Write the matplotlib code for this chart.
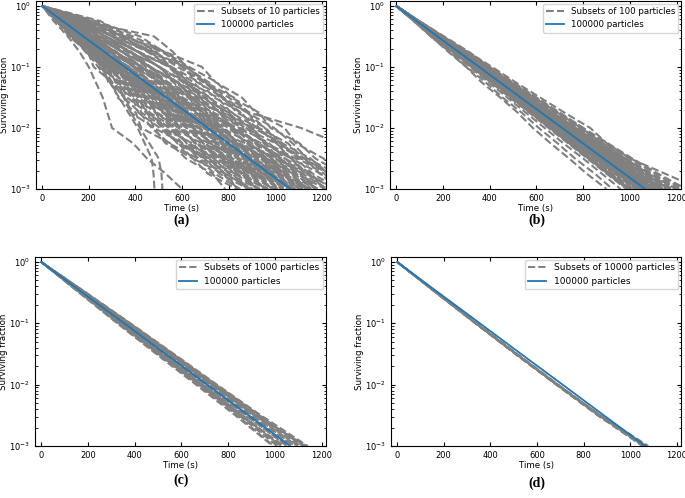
import matplotlib.pyplot as plt

# ---------------------------------------------- Data ----------------------------------------------
# Niveles de fraccion superviviente; cada curva se da por los tiempos (s) en que los cruza
levels = [1.0, 0.316, 0.1, 0.0316, 0.01, 0.00316, 0.001]
levels_fine = [1.0, 0.562, 0.316, 0.178, 0.1, 0.0562, 0.0316, 0.0178, 0.01,
               0.00562, 0.00316, 0.00178, 0.001]

# 100000 particles (linea azul)
ref_times = [0, 177, 355, 532, 710, 887, 1065]

# Subsets of 10 particles (niveles finos)
times_10 = [
    [67, 115, 196, 221, 300, 323, 402, 425, 549, 617, 731, 785],
    [59, 138, 186, 262, 284, 359, 381, 480, 529, 647, 711, 835],
    [75, 131, 185, 259, 323, 351, 419, 470, 544, 667, 741, 850],
    [67, 129, 215, 251, 297, 387, 413, 505, 584, 647, 776, 840],
    [73, 126, 213, 245, 333, 364, 452, 480, 604, 672, 786, 840],
    [64, 148, 201, 285, 314, 397, 426, 530, 579, 697, 761, 885],
    [80, 140, 199, 279, 350, 384, 460, 515, 589, 712, 786, 895],
    [71, 137, 227, 269, 321, 417, 449, 545, 624, 687, 816, 880],
    [77, 134, 225, 263, 357, 394, 488, 520, 644, 712, 826, 880],
    [68, 156, 213, 303, 338, 427, 462, 570, 619, 737, 801, 925],
    [84, 148, 211, 297, 374, 414, 496, 555, 629, 752, 826, 935],
    [75, 145, 239, 287, 345, 447, 485, 585, 664, 727, 856, 920],
    [81, 142, 237, 281, 381, 424, 524, 560, 684, 752, 866, 920],
    [71, 163, 223, 319, 359, 453, 493, 605, 654, 772, 836, 960],
    [87, 155, 221, 313, 395, 441, 527, 590, 664, 787, 861, 970],
    [78, 152, 249, 303, 366, 473, 516, 620, 699, 762, 891, 955],
    [84, 148, 246, 295, 399, 447, 551, 590, 714, 782, 896, 950],
    [75, 170, 234, 334, 380, 479, 525, 640, 689, 807, 871, 995],
    [90, 161, 230, 327, 413, 463, 554, 620, 694, 817, 891, 1000],
    [81, 158, 258, 316, 384, 496, 543, 650, 729, 792, 921, 985],
    [87, 154, 255, 308, 417, 469, 578, 620, 744, 812, 926, 980],
    [78, 176, 243, 348, 398, 502, 552, 670, 719, 837, 901, 1025],
    [93, 167, 239, 340, 431, 486, 581, 650, 724, 847, 921, 1030],
    [84, 163, 266, 327, 399, 514, 566, 675, 754, 817, 946, 1010],
    [90, 160, 264, 322, 435, 492, 605, 650, 774, 842, 956, 1010],
    [80, 181, 250, 359, 413, 521, 574, 695, 744, 862, 926, 1050],
    [96, 172, 247, 351, 446, 504, 604, 675, 749, 872, 946, 1055],
    [86, 168, 273, 339, 414, 533, 588, 700, 779, 842, 971, 1035],
    [92, 164, 270, 331, 447, 507, 623, 670, 794, 862, 976, 1030],
    [82, 185, 256, 368, 425, 536, 592, 715, 764, 882, 946, 1070],
    [98, 176, 253, 360, 458, 519, 622, 695, 769, 892, 966, 1075],
    [89, 172, 279, 348, 426, 548, 606, 720, 799, 862, 991, 1055],
    [66, 152, 207, 294, 326, 412, 444, 550, 599, 717, 781, 905],
    [87, 154, 220, 311, 392, 437, 523, 585, 659, 782, 856, 965],
    [81, 157, 257, 314, 381, 492, 539, 645, 724, 787, 916, 980],
    [89, 159, 262, 320, 432, 488, 600, 645, 769, 837, 951, 1005],
    [84, 188, 261, 375, 434, 547, 606, 730, 779, 897, 961, 1085],
    [101, 181, 260, 370, 469, 532, 636, 710, 784, 907, 981, 1090],
    [93, 180, 290, 360, 439, 562, 621, 735, 814, 877, 1006, 1070],
    [102, 181, 293, 360, 479, 542, 661, 710, 834, 902, 1016, 1070],
    [94, 204, 282, 400, 459, 572, 631, 755, 804, 922, 986, 1110],
    [113, 201, 286, 400, 499, 562, 666, 740, 814, 937, 1011, 1120],
    [105, 199, 315, 390, 469, 592, 651, 765, 844, 907, 1036, 1100],
    [114, 201, 319, 390, 509, 572, 691, 740, 864, 932, 1046, 1100],
    [106, 224, 308, 430, 489, 602, 661, 785, 834, 952, 1016, 1140],
    [125, 220, 311, 430, 529, 592, 696, 770, 844, 967, 1041, 1150],
    [119, 222, 345, 425, 504, 627, 686, 800, 879, 942, 1071, 1135],
    [126, 220, 344, 420, 539, 602, 721, 770, 894, 962, 1076, 1130],
    [120, 247, 338, 465, 524, 637, 696, 820, 869, 987, 1051, 1175],
    [139, 243, 341, 465, 564, 627, 731, 805, 879, 1002, 1076, 1185],
    [133, 245, 375, 460, 539, 662, 721, 835, 914, 977, 1106, 1170],
    [142, 246, 378, 460, 579, 642, 761, 810, 934, 1002, 1116, 1170],
    [136, 273, 372, 505, 564, 677, 736, 860, 909, 1027, 1091, 1215],
    [155, 269, 375, 505, 604, 667, 771, 845, 919, 1042, 1116, 1225],
    [149, 271, 409, 500, 579, 702, 761, 875, 954, 1017, 1146, 1210],
    [158, 272, 412, 500, 619, 682, 801, 850, 974, 1042, 1156, 1210],
    [152, 299, 406, 545, 604, 717, 776, 900, 949, 1067, 1131, 1255],
    [173, 298, 413, 550, 649, 712, 816, 890, 964, 1087, 1161, 1270],
    [169, 303, 451, 550, 629, 752, 811, 925, 1004, 1067, 1196, 1260],
    [180, 308, 459, 555, 674, 737, 856, 905, 1029, 1097, 1211, 1265],
    [176, 338, 457, 605, 664, 777, 836, 960, 1009, 1127, 1191, 1315],
    [199, 341, 469, 615, 714, 777, 881, 955, 1029, 1152, 1226, 1335],
    [197, 349, 511, 620, 699, 822, 881, 995, 1074, 1137, 1266, 1330],
    [210, 357, 523, 630, 749, 812, 931, 980, 1104, 1172, 1286, 1340],
    [208, 390, 525, 685, 744, 857, 916, 1040, 1089, 1207, 1271, 1395],
    [123, 217, 307, 425, 524, 587, 691, 765, 839, 962, 1036, 1145],
    [127, 235, 362, 445, 524, 647, 706, 820, 899, 962, 1091, 1155],
    [144, 249, 382, 465, 584, 647, 766, 815, 939, 1007, 1121, 1175],
    [154, 302, 410, 550, 609, 722, 781, 905, 954, 1072, 1136, 1260],
    [117, 207, 294, 410, 509, 572, 676, 750, 824, 947, 1021, 1130],
    [95, 183, 294, 365, 444, 567, 626, 740, 819, 882, 1011, 1075],
    [190, 324, 480, 580, 699, 762, 881, 930, 1054, 1122, 1236, 1290],
    [60, 120, 190, 240, 290, 330, 370, 410, 440, 470, 478, 482],
    [70, 130, 200, 260, 300, 350, 380, 420, 460, 500, 512, 516],
    [50, 110, 160, 200, 230, 260, 280, 300, 390, 450, 530, 600],
    [250, 370, 490, 550, 630, 690, 800, 870, 1000, 1110, 1260, 1390],
    [230, 420, 520, 600, 690, 800, 890, 1110, 1270, 1410, 1510, 1650],
    [180, 480, 560, 620, 700, 770, 850, 920, 1020, 1110, 1230, 1310],
]

# Subsets of 100 particles (niveles finos)
times_100 = [
    [85, 172, 262, 350, 438, 530, 615, 705, 790, 880, 965, 1050],
    [95, 190, 285, 380, 470, 565, 660, 750, 845, 940, 1030, 1130],
    [80, 160, 245, 330, 415, 500, 585, 670, 760, 845, 930, 1010],
    [92, 182, 275, 365, 458, 548, 640, 735, 830, 930, 1030, 1140],
    [88, 175, 262, 348, 435, 520, 608, 695, 780, 862, 950, 1035],
    [100, 200, 300, 395, 490, 590, 690, 790, 885, 980, 1080, 1180],
    [78, 155, 235, 315, 395, 475, 555, 635, 715, 800, 880, 960],
    [90, 180, 272, 360, 450, 540, 632, 725, 815, 905, 995, 1085],
    [86, 170, 258, 345, 432, 522, 612, 700, 788, 880, 975, 1075],
    [96, 192, 288, 385, 480, 575, 670, 770, 870, 975, 1080, 1200],
    [84, 168, 252, 338, 425, 508, 592, 676, 760, 845, 925, 1005],
    [75, 150, 222, 300, 365, 445, 520, 585, 660, 740, 815, 900],
    [100, 205, 310, 400, 500, 600, 700, 800, 870, 950, 1060, 1170],
    [89, 178, 268, 356, 445, 535, 625, 712, 800, 890, 980, 1070],
    [87, 172, 258, 343, 428, 512, 598, 682, 768, 852, 936, 1020],
    [93, 186, 280, 372, 465, 558, 650, 745, 840, 935, 1035, 1130],
    [90, 181, 272, 363, 455, 546, 637, 730, 822, 915, 1010, 1110],
    [82, 165, 248, 332, 416, 500, 583, 666, 750, 832, 915, 995],
    [94, 186, 278, 370, 460, 552, 645, 738, 830, 922, 1015, 1105],
    [88, 177, 266, 355, 444, 533, 622, 711, 800, 890, 982, 1078],
    [98, 198, 298, 396, 495, 595, 695, 800, 905, 1010, 1120, 1240],
    [83, 166, 250, 334, 418, 502, 586, 670, 752, 835, 915, 998],
    [92, 184, 276, 368, 460, 552, 645, 738, 832, 925, 1020, 1115],
    [86, 172, 259, 346, 433, 520, 606, 693, 780, 866, 955, 1045],
    [91, 183, 276, 370, 465, 560, 655, 750, 848, 948, 1055, 1165],
    [88, 176, 264, 352, 440, 528, 617, 705, 795, 885, 975, 1065],
    [76, 148, 228, 300, 382, 455, 537, 610, 690, 765, 850, 925],
    [95, 190, 284, 378, 472, 568, 662, 758, 855, 950, 1050, 1150],
    [85, 170, 256, 343, 430, 518, 604, 690, 775, 860, 945, 1030],
    [93, 182, 270, 360, 450, 540, 630, 722, 815, 908, 1000, 1095],
    [88, 176, 265, 353, 440, 528, 615, 703, 790, 878, 966, 1055],
    [97, 194, 290, 387, 483, 580, 678, 778, 880, 985, 1095, 1210],
    [87, 174, 261, 349, 436, 524, 611, 700, 788, 876, 964, 1052],
    [91, 182, 272, 363, 454, 545, 636, 728, 820, 912, 1005, 1100],
    [81, 163, 245, 328, 411, 493, 575, 658, 740, 823, 905, 990],
    [99, 200, 305, 410, 510, 615, 720, 830, 900, 1000, 1150, 1300],
    [89, 179, 268, 358, 447, 537, 626, 716, 806, 895, 985, 1078],
    [92, 185, 278, 372, 466, 560, 654, 748, 843, 940, 1038, 1140],
    [84, 169, 254, 340, 425, 512, 598, 684, 770, 858, 945, 1035],
    [90, 180, 270, 360, 450, 540, 630, 722, 815, 910, 1005, 1100],
    [88, 174, 263, 350, 440, 527, 618, 706, 797, 886, 978, 1068],
    [92, 186, 277, 370, 461, 555, 648, 742, 838, 933, 1030, 1125],
    [84, 167, 253, 338, 424, 510, 596, 682, 770, 856, 942, 1028],
    [95, 188, 283, 376, 470, 563, 658, 752, 848, 944, 1042, 1145],
    [86, 173, 258, 346, 432, 520, 608, 697, 785, 875, 966, 1058],
    [90, 178, 268, 358, 448, 538, 630, 722, 815, 908, 1000, 1092],
    [82, 164, 247, 330, 414, 497, 580, 664, 748, 833, 918, 1003],
    [97, 193, 288, 382, 478, 574, 670, 768, 868, 970, 1075, 1180],
    [87, 176, 266, 353, 443, 532, 620, 710, 800, 892, 985, 1080],
    [91, 180, 268, 356, 446, 534, 623, 713, 804, 896, 990, 1088],
    [80, 162, 243, 326, 408, 490, 572, 656, 740, 822, 906, 990],
    [94, 189, 282, 375, 470, 566, 662, 760, 858, 958, 1060, 1165],
    [89, 177, 267, 357, 446, 536, 626, 716, 807, 898, 992, 1090],
    [85, 171, 257, 344, 431, 518, 605, 692, 778, 866, 953, 1040],
    [93, 185, 277, 368, 460, 553, 646, 740, 836, 932, 1032, 1135],
    [79, 158, 240, 322, 404, 486, 570, 652, 735, 818, 900, 985],
    [96, 191, 287, 383, 478, 575, 672, 770, 870, 975, 1085, 1195],
    [88, 177, 265, 354, 443, 532, 621, 711, 802, 893, 985, 1078],
    [90, 182, 273, 365, 456, 548, 640, 733, 826, 920, 1016, 1112],
    [83, 166, 250, 335, 420, 505, 590, 676, 762, 850, 938, 1025],
    [92, 183, 275, 366, 458, 550, 642, 736, 830, 926, 1025, 1128],
    [86, 174, 262, 350, 438, 527, 616, 706, 796, 888, 980, 1074],
    [98, 196, 294, 392, 490, 588, 688, 790, 895, 1000, 1110, 1225],
    [87, 172, 260, 347, 434, 522, 610, 698, 786, 874, 962, 1050],
    [91, 181, 271, 362, 452, 543, 635, 726, 818, 912, 1008, 1105],
    [84, 170, 255, 341, 427, 514, 600, 688, 775, 864, 952, 1042],
    [94, 187, 280, 374, 468, 562, 657, 752, 850, 948, 1050, 1155],
    [89, 178, 267, 356, 445, 535, 625, 715, 806, 897, 990, 1085],
    [81, 163, 246, 330, 413, 496, 580, 663, 746, 830, 912, 995],
    [95, 190, 285, 380, 475, 571, 668, 765, 862, 962, 1065, 1170],
]

# Subsets of 1000 particles
times_1000 = [
    [178, 355, 532, 710, 887, 1065], [190, 378, 562, 745, 930, 1120],
    [166, 332, 502, 675, 845, 1010], [184, 370, 552, 735, 918, 1100],
    [172, 343, 515, 690, 862, 1030], [193, 382, 568, 752, 940, 1140],
    [163, 328, 497, 668, 838, 995], [181, 362, 545, 725, 905, 1085],
    [175, 350, 525, 702, 878, 1050], [188, 374, 558, 742, 928, 1125],
    [169, 338, 508, 682, 855, 1020], [186, 368, 548, 730, 912, 1135],
    [162, 325, 492, 662, 830, 990], [179, 358, 538, 718, 898, 1078],
    [191, 380, 565, 748, 935, 1110], [167, 335, 505, 678, 850, 1040],
    [183, 366, 550, 732, 915, 1095], [174, 348, 522, 698, 872, 1055],
    [187, 372, 555, 738, 922, 1130], [170, 340, 512, 686, 858, 1025],
]

# Subsets of 10000 particles
times_10000 = [
    [168, 338, 510, 686, 866, 1058], [169, 340, 513, 689, 870, 1066],
    [167, 336, 508, 684, 862, 1052], [168, 339, 512, 688, 868, 1072],
    [170, 341, 514, 690, 871, 1064], [166, 335, 507, 682, 860, 1056],
    [168, 338, 511, 688, 872, 1078], [169, 341, 515, 691, 870, 1066],
    [167, 337, 509, 685, 865, 1060], [168, 339, 511, 687, 867, 1070],
]

subsets = [times_10, times_100, times_1000, times_10000]
subset_levels = [levels_fine, levels_fine, levels, levels]
subset_sizes = [10, 100, 1000, 10000]
panel_names = ['(a)', '(b)', '(c)', '(d)']

# -------------------------------------------- Figura ---------------------------------------------
fig = plt.figure(figsize=(6.85, 4.98), dpi=100)

# posiciones de los ejes [left, bottom, width, height]
boxes = [[0.0526, 0.6205, 0.4234, 0.3775],
         [0.5693, 0.6205, 0.4248, 0.3775],
         [0.0511, 0.1044, 0.4248, 0.3795],
         [0.5708, 0.1044, 0.4234, 0.3795]]
label_pos = [(0.265, 0.558), (0.784, 0.558), (0.265, 0.036), (0.784, 0.030)]
font_sizes = [6.2, 6.2, 6.5, 6.5]
gray_widths = [1.5, 1.5, 1.4, 1.4]

for k in range(4):
    ax = fig.add_axes(boxes[k])
    for i, t in enumerate(subsets[k]):
        # desfase del patron de trazos para que no queden alineados
        ax.plot([0] + t, subset_levels[k], color='gray', linewidth=gray_widths[k],
                linestyle=((i * 1.9) % 5.3, (3.7, 1.6)),
                label=f'Subsets of {subset_sizes[k]} particles' if i == 0 else None)
    ax.plot(ref_times, levels, color='#1f77b4', linewidth=1.3, label='100000 particles')

    ax.set_yscale('log')
    ax.set_xlim(-26, 1218)
    ax.set_ylim(1e-3, 1.2)
    ax.set_xticks([0, 200, 400, 600, 800, 1000, 1200])
    ax.tick_params(which='both', direction='in', top=True, right=True, labelsize=6)
    ax.tick_params(which='major', length=3)
    ax.tick_params(which='minor', length=1.8)
    ax.set_xlabel('Time (s)', fontsize=6.2, labelpad=1)
    ax.set_ylabel('Surviving fraction', fontsize=6.2, labelpad=1)
    ax.legend(loc='upper right', fontsize=font_sizes[k], borderaxespad=0.3)

    fig.text(label_pos[k][0], label_pos[k][1], panel_names[k], ha='center', va='center',
             fontsize=10, fontweight='bold', family='Liberation Serif')

fig.savefig('out.png', dpi=100)
